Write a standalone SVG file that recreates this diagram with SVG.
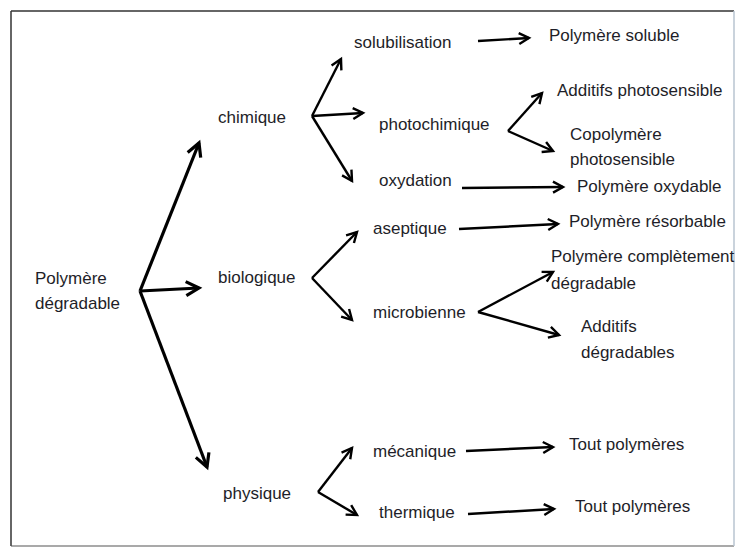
<svg xmlns="http://www.w3.org/2000/svg" width="736" height="548" viewBox="0 0 736 548">
<style>
text { font-family: "Liberation Sans", Arial, sans-serif; font-size: 17px; fill: #1e1e28; }
.c { stroke: #000; stroke-width: 2.4; fill: none; marker-end: url(#ah); }
.b { stroke: #000; stroke-width: 3.2; fill: none; marker-end: url(#ahb); }
</style>
<defs>
<marker id="ah" markerUnits="userSpaceOnUse" viewBox="-13 -8 16 16" refX="0" refY="0" markerWidth="16" markerHeight="16" orient="auto">
<path d="M-10,-5.5 L0,0 L-10,5.5" fill="none" stroke="#000" stroke-width="2.4"/>
</marker>
<marker id="ahb" markerUnits="userSpaceOnUse" viewBox="-16 -10 20 20" refX="0" refY="0" markerWidth="20" markerHeight="20" orient="auto">
<path d="M-13,-7 L0,0 L-13,7" fill="none" stroke="#000" stroke-width="3.2"/>
</marker>
</defs>
<rect width="736" height="548" fill="#fff"/>
<g id="frame">
<line x1="11" y1="11" x2="734" y2="11" stroke="#333" stroke-width="1.5"/>
<line x1="11" y1="11" x2="11" y2="546" stroke="#333" stroke-width="1.5"/>
<line x1="11" y1="546" x2="734" y2="546" stroke="#555" stroke-width="1.2"/>
<line x1="734" y1="11" x2="734" y2="546" stroke="#b8c4d0" stroke-width="1.5"/>
</g>
<g id="connectors">
<line class="b" x1="140" y1="291" x2="199" y2="143"/>
<line class="b" x1="140" y1="291" x2="199" y2="288"/>
<line class="b" x1="140" y1="291" x2="207" y2="467"/>
<line class="c" x1="312" y1="116" x2="341" y2="59"/>
<line class="c" x1="312" y1="116" x2="363" y2="113"/>
<line class="c" x1="312" y1="116" x2="352" y2="181"/>
<line class="c" x1="478" y1="41" x2="529" y2="38"/>
<line class="c" x1="508" y1="131" x2="542" y2="93"/>
<line class="c" x1="508" y1="131" x2="553" y2="151"/>
<line class="c" x1="462" y1="188" x2="563" y2="187"/>
<line class="c" x1="312" y1="278" x2="357" y2="232"/>
<line class="c" x1="312" y1="278" x2="352" y2="320"/>
<line class="c" x1="459" y1="229" x2="558" y2="224"/>
<line class="c" x1="478" y1="312" x2="553" y2="272"/>
<line class="c" x1="478" y1="312" x2="559" y2="335"/>
<line class="c" x1="318" y1="492" x2="352" y2="448"/>
<line class="c" x1="318" y1="492" x2="357" y2="515"/>
<line class="c" x1="466" y1="451" x2="553" y2="447"/>
<line class="c" x1="468" y1="514" x2="554" y2="509"/>
</g>
<g id="n-root"><text x="35" y="284">Polymère</text><text x="35" y="309">dégradable</text></g>
<g id="n-chimique"><text x="218" y="123">chimique</text></g>
<g id="n-biologique"><text x="218" y="283">biologique</text></g>
<g id="n-physique"><text x="223" y="499">physique</text></g>
<g id="n-solubilisation"><text x="354" y="48">solubilisation</text></g>
<g id="n-photochimique"><text x="379" y="130">photochimique</text></g>
<g id="n-oxydation"><text x="379" y="186">oxydation</text></g>
<g id="n-aseptique"><text x="373" y="234">aseptique</text></g>
<g id="n-microbienne"><text x="373" y="318">microbienne</text></g>
<g id="n-mecanique"><text x="373" y="457">mécanique</text></g>
<g id="n-thermique"><text x="379" y="518">thermique</text></g>
<g id="n-soluble"><text x="549" y="41">Polymère soluble</text></g>
<g id="n-additifs-photo"><text x="557" y="96">Additifs photosensible</text></g>
<g id="n-copolymere"><text x="570" y="140">Copolymère</text><text x="570" y="165">photosensible</text></g>
<g id="n-oxydable"><text x="577" y="192">Polymère oxydable</text></g>
<g id="n-resorbable"><text x="569" y="227">Polymère résorbable</text></g>
<g id="n-completement"><text x="551" y="262">Polymère complètement</text><text x="551" y="289">dégradable</text></g>
<g id="n-additifs-degr"><text x="581" y="332">Additifs</text><text x="581" y="358">dégradables</text></g>
<g id="n-tout1"><text x="569" y="450">Tout polymères</text></g>
<g id="n-tout2"><text x="575" y="512">Tout polymères</text></g>
</svg>
